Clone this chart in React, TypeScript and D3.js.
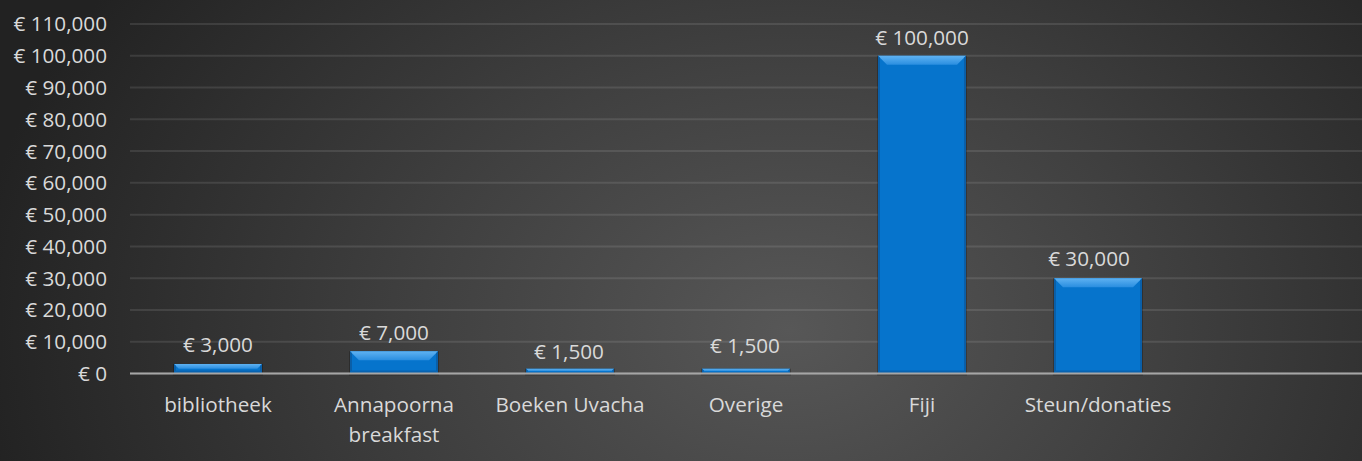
import React from "react";
import * as d3 from "d3";

const categories = ["bibliotheek", "Annapoorna breakfast", "Boeken Uvacha", "Overige", "Fiji", "Steun/donaties", ""];
const values = [3000, 7000, 1500, 1500, 100000, 30000, null];
const yTicks = [0, 10000, 20000, 30000, 40000, 50000, 60000, 70000, 80000, 90000, 100000, 110000];

const W = 1362;
const H = 461;
const FONT = "'Open Sans', sans-serif";
const FS = 20.7;
const TEXT = "#d9d9d9";
// small manual nudges of data labels as in the reference
const labelDx = [0, 0, -1, -1, 0, -9, 0];
const labelDy = [-1, 0, 1.5, -4.5, 0.3, -1.4, 0];

const fmt = (v: number) => "€ " + d3.format(",")(v);

export default function App() {
  const x = d3.scaleBand<string>().domain(categories.map((c, i) => c + "_" + i)).range([130, W]).paddingInner(0.5).paddingOuter(0.25);
  const y = d3.scaleLinear().domain([0, 110000]).range([373.5, 24]);
  const keys = categories.map((c, i) => c + "_" + i);
  const bw = x.bandwidth();

  return (
    <svg width={W} height={H} style={{ position: "absolute", left: 0, top: 0, display: "block" }} fontFamily={FONT}>
      <defs>
        <radialGradient id="bg" gradientUnits="userSpaceOnUse" cx={790} cy={330} r={820} fx={790} fy={330} gradientTransform="translate(790,330) scale(1,0.75) translate(-790,-330)">
          <stop offset="0" stopColor="#575757" />
          <stop offset="0.45" stopColor="#404040" />
          <stop offset="1" stopColor="#222222" />
        </radialGradient>
        <linearGradient id="topBevel" x1="0" y1="0" x2="0" y2="1">
          <stop offset="0" stopColor="#5fb2f2" />
          <stop offset="1" stopColor="#2a8ee0" />
        </linearGradient>
      </defs>
      <rect x={0} y={0} width={W} height={H} fill="url(#bg)" />

      {yTicks.map((t) => (
        <line key={"g" + t} x1={130} x2={W} y1={y(t)} y2={y(t)} stroke="rgba(255,255,255,0.1)" strokeWidth={2} />
      ))}
      {yTicks.map((t) => (
        <text key={"yt" + t} x={107} y={y(t)} dy="0.36em" textAnchor="end" fontSize={FS} fill={TEXT}>
          {fmt(t)}
        </text>
      ))}

      {values.map((v, i) => {
        if (v == null) return null;
        const x0 = x(keys[i])!;
        const top = y(v);
        const bot = y(0);
        const h = bot - top;
        const b = Math.min(9, h / 2);
        const bb = Math.min(3, h / 3);
        const s = Math.min(2, h / 3);
        return (
          <g key={"b" + i}>
            <rect x={x0 - 1} y={top} width={bw + 2} height={h + 2} fill="rgba(0,0,0,0.25)" />
            <rect x={x0} y={top} width={bw} height={h} fill="#0674cc" />
            <polygon points={`${x0},${top} ${x0 + bw},${top} ${x0 + bw - b},${top + b} ${x0 + b},${top + b}`} fill="url(#topBevel)" />
            <polygon points={`${x0},${top} ${x0 + s},${top + s} ${x0 + s},${bot - bb} ${x0},${bot}`} fill="#0a5fa8" />
            <polygon points={`${x0 + bw},${top} ${x0 + bw - s},${top + s} ${x0 + bw - s},${bot - bb} ${x0 + bw},${bot}`} fill="#0a5fa8" />
            <polygon points={`${x0},${bot} ${x0 + s},${bot - bb} ${x0 + bw - s},${bot - bb} ${x0 + bw},${bot}`} fill="#0863b0" />
          </g>
        );
      })}

      <line x1={130} x2={W} y1={y(0)} y2={y(0)} stroke="#a6a6a6" strokeWidth={2} />

      {values.map((v, i) => {
        if (v == null) return null;
        const cx = x(keys[i])! + bw / 2 + labelDx[i];
        return (
          <text key={"dl" + i} x={cx} y={y(v) - 11 + labelDy[i]} textAnchor="middle" fontSize={FS} fill={TEXT}>
            {fmt(v)}
          </text>
        );
      })}

      {categories.map((c, i) => {
        if (!c) return null;
        const cx = x(keys[i])! + bw / 2;
        const lines = c.length > 16 ? c.split(" ") : [c];
        return (
          <text key={"c" + i} x={cx} y={412} textAnchor="middle" fontSize={FS} fill={TEXT}>
            {lines.map((l, j) => (
              <tspan key={j} x={cx} y={412 + j * 30}>
                {l}
              </tspan>
            ))}
          </text>
        );
      })}
    </svg>
  );
}
